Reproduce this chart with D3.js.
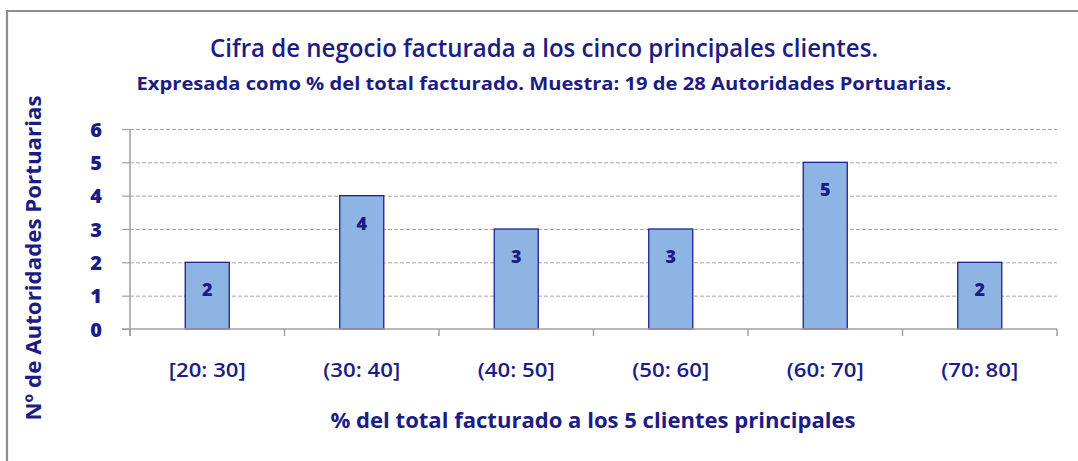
<!DOCTYPE html>
<html><head><meta charset="utf-8">
<script src="https://cdn.jsdelivr.net/npm/d3@7"></script>
<style>body{margin:0;background:#fff}svg{display:block}</style>
</head><body>
<script>
const categories = ["[20: 30]", "(30: 40]", "(40: 50]", "(50: 60]", "(60: 70]", "(70: 80]"];
const values = [2, 4, 3, 3, 5, 2];
const yTicks = [0, 1, 2, 3, 4, 5, 6];
const titleText = "Cifra de negocio facturada a los cinco principales clientes.";
const subtitleText = "Expresada como % del total facturado. Muestra: 19 de 28 Autoridades Portuarias.";
const xTitle = "% del total facturado a los 5 clientes principales";
const yTitle = "Nº de Autoridades Portuarias";

const W = 1078, H = 461;
const navy = "#1c1c84";
const font = "'Open Sans', 'DejaVu Sans', sans-serif";
const svg = d3.select("body").append("svg").attr("width", W).attr("height", H);

// frame
svg.append("path").attr("d", `M7,${H} L7,11 L${W},11`).attr("fill", "none")
  .attr("stroke", "#8e8e8e").attr("stroke-width", 2.2);

const m = {left: 130, right: 1057, top: 129, bottom: 329};
const x = d3.scaleBand().domain(categories).range([m.left, m.right]).paddingInner(0).paddingOuter(0);
const y = d3.scaleLinear().domain([0, 6]).range([m.bottom, m.top]);

// gridlines
svg.append("g").selectAll("line").data(yTicks.filter(d => d > 0)).join("line")
  .attr("x1", m.left).attr("x2", m.right)
  .attr("y1", d => y(d) + 0.5).attr("y2", d => y(d) + 0.5)
  .attr("stroke", "#a6a6a6").attr("stroke-width", 1).attr("stroke-dasharray", "4,2");

// y axis
const yAxis = svg.append("g").attr("transform", `translate(${m.left},0)`)
  .call(d3.axisLeft(y).tickValues(yTicks).tickSize(8).tickPadding(20).tickFormat(d3.format("d")));
yAxis.attr("font-size", null).attr("font-family", null);
yAxis.select(".domain").attr("stroke", "#a0a0a0").attr("stroke-width", 1.5)
  .attr("d", `M0,${m.top} V${m.bottom + 7}`);
yAxis.selectAll(".tick line").attr("stroke", "#a0a0a0").attr("stroke-width", 1.2);
yAxis.selectAll(".tick text").attr("fill", navy).attr("dy", "0.36em")
  .style("font-family", font).style("font-weight", "800").style("font-size", "20px");

// bars
const bw = x.bandwidth() * 0.285;
svg.append("g").selectAll("rect").data(values).join("rect")
  .attr("x", (d, i) => x(categories[i]) + x.bandwidth() / 2 - bw / 2)
  .attr("width", bw)
  .attr("y", d => y(d))
  .attr("height", d => y(0) - y(d))
  .attr("fill", "#8eb4e3").attr("stroke", "#1f2090").attr("stroke-width", 1.3);

// data labels
svg.append("g").selectAll("text").data(values).join("text")
  .attr("x", (d, i) => x(categories[i]) + x.bandwidth() / 2)
  .attr("y", d => y(d) + 34)
  .attr("text-anchor", "middle").attr("fill", navy)
  .style("font-family", font).style("font-weight", "800").style("font-size", "18px")
  .text(d => d);

// x axis
const xAxis = svg.append("g").attr("transform", `translate(0,${m.bottom})`)
  .call(d3.axisBottom(x).tickSize(0).tickPadding(34));
xAxis.attr("font-size", null).attr("font-family", null);
xAxis.select(".domain").attr("stroke", "#a0a0a0").attr("stroke-width", 1.5)
  .attr("d", `M${m.left - 8},0 H${m.right}`);
xAxis.selectAll(".tick line").remove();
xAxis.selectAll(".tick text").attr("fill", navy)
  .style("font-family", font).style("font-weight", "600").style("font-size", "20px")
  .attr("textLength", 77).attr("lengthAdjust", "spacingAndGlyphs");
// category boundary ticks
const bounds = categories.map(c => x(c)).concat([m.right]);
svg.append("g").selectAll("line").data(bounds).join("line")
  .attr("x1", d => d).attr("x2", d => d).attr("y1", m.bottom).attr("y2", m.bottom + 7)
  .attr("stroke", "#a0a0a0").attr("stroke-width", 1.5);

// titles
svg.append("text").attr("x", 544).attr("y", 57).attr("text-anchor", "middle")
  .attr("fill", navy).style("font-family", font).style("font-weight", "600").style("font-size", "25px")
  .attr("textLength", 668).attr("lengthAdjust", "spacingAndGlyphs").text(titleText);
svg.append("text").attr("x", 544).attr("y", 90).attr("text-anchor", "middle")
  .attr("fill", navy).style("font-family", font).style("font-weight", "bold").style("font-size", "17px")
  .attr("textLength", 815).attr("lengthAdjust", "spacingAndGlyphs").text(subtitleText);
svg.append("text").attr("x", 593).attr("y", 428).attr("text-anchor", "middle")
  .attr("fill", navy).style("font-family", font).style("font-weight", "bold").style("font-size", "21px")
  .attr("textLength", 525).attr("lengthAdjust", "spacingAndGlyphs").text(xTitle);
svg.append("text").attr("transform", "translate(41,258) rotate(-90)").attr("text-anchor", "middle")
  .attr("fill", navy).style("font-family", font).style("font-weight", "bold").style("font-size", "21px")
  .attr("textLength", 325).attr("lengthAdjust", "spacingAndGlyphs").text(yTitle);
</script>
</body></html>
